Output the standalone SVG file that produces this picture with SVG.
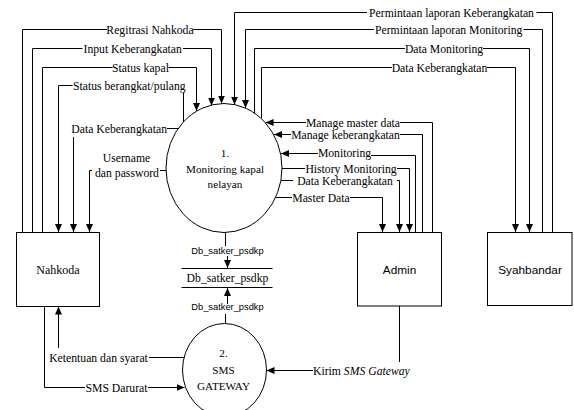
<svg xmlns="http://www.w3.org/2000/svg" width="574" height="410" viewBox="0 0 574 410">
<defs>
<marker id="ah" markerWidth="8" markerHeight="7" refX="8" refY="3.5" orient="auto" markerUnits="userSpaceOnUse"><path d="M0,0 L8,3.5 L0,7 z" fill="#000"/></marker>
<style>
.c path{fill:none;stroke:#000;stroke-width:1}
.a{marker-end:url(#ah)}
.lb{font-family:"Liberation Serif","Times New Roman",serif;font-size:11.7px;fill:#000}
.m{text-anchor:middle}
.ct{font-size:11.2px}
.sm{font-family:"Liberation Sans",Arial,sans-serif;font-size:9.3px;fill:#000;text-anchor:middle}
.bx{fill:#fff;stroke:#000;stroke-width:1}
.bt{font-family:"Liberation Sans",Arial,sans-serif;font-size:11.8px;fill:#000;text-anchor:middle}
.st{fill:none;stroke:#000;stroke-width:1}
</style>
</defs>
<rect width="574" height="410" fill="#fff"/>
<g id="connectors" class="c">
<path d="M22.5 232 V29.5 H107"/><path class="a" d="M193 29.5 H221.5 V103.5"/>
<path d="M32.5 232 V48.5 H82.5"/><path class="a" d="M183 48.5 H211.5 V105.5"/>
<path d="M42.5 232 V67.5 H112.5"/><path class="a" d="M168.5 67.5 H196.5 V111"/>
<path d="M183.5 122 V93"/><path class="a" d="M72.5 85.5 H58.5 V232"/>
<path d="M179 128.5 H167"/><path class="a" d="M73.5 137 V232"/>
<path d="M166 170.5 H160"/><path class="a" d="M92 170.5 H89.5 V232"/>
<path d="M552.5 232 V12.5 H536.5"/><path class="a" d="M367 12.5 H234.5 V104.5"/>
<path d="M542.5 232 V29.5 H523.5"/><path class="a" d="M374 29.5 H245.5 V108"/>
<path d="M254.5 113 V48.5 H405"/><path class="a" d="M483 48.5 H529.5 V232"/>
<path d="M261.5 118 V67.5 H392"/><path class="a" d="M487 67.5 H515.5 V232"/>
<path d="M432.5 232 V122.5 H400"/><path class="a" d="M306 122.5 H265.5"/>
<path d="M422.5 232 V134.5 H400"/><path class="a" d="M291 134.5 H274"/>
<path d="M415.5 232 V155.5 H371"/><path class="a" d="M318 153.5 H281"/>
<path d="M282 168.5 H305"/><path class="a" d="M397 168.5 H409.5 V232"/>
<path d="M281 180.5 H293"/><path class="a" d="M397 180.5 H399.5 V232"/>
<path d="M276 197.5 H292"/><path class="a" d="M350 197.5 H382.5 V232"/>
<path d="M225.5 232.5 V246"/><path class="a" d="M227.5 256 V268"/>
<path d="M225.5 323.5 V314"/><path class="a" d="M227.5 304 V288"/>
<path d="M184 357.5 H149"/><path class="a" d="M58.5 348 V306.5"/>
<path d="M44.5 306.5 V387.5 H85"/><path class="a" d="M148 387.5 H184.5"/>
<path d="M399.5 306 V362"/><path class="a" d="M313 370.5 H266.5"/>
</g>
<g id="labels">
<text class="lb m" x="150" y="33.5">Regitrasi Nahkoda</text>
<text class="lb m" x="132.7" y="52.5">Input Keberangkatan</text>
<text class="lb m" x="140.5" y="71.5">Status kapal</text>
<text class="lb m" x="129.3" y="89.5">Status berangkat/pulang</text>
<text class="lb m" x="119.2" y="132.5">Data Keberangkatan</text>
<text class="lb m" x="126.5" y="161.5">Username</text>
<text class="lb m" x="127" y="176.5">dan password</text>
<text class="lb m" x="451.5" y="16.5">Permintaan laporan Keberangkatan</text>
<text class="lb m" x="448.7" y="33.5">Permintaan laporan Monitoring</text>
<text class="lb m" x="444" y="52.5">Data Monitoring</text>
<text class="lb m" x="439.5" y="71.5">Data Keberangkatan</text>
<text class="lb m" x="353" y="126.5">Manage master data</text>
<text class="lb m" x="345.5" y="138.5">Manage keberangkatan</text>
<text class="lb m" x="344.5" y="157">Monitoring</text>
<text class="lb m" x="351" y="172.5">History Monitoring</text>
<text class="lb m" x="345" y="184.5">Data Keberangkatan</text>
<text class="lb m" x="321" y="201.5">Master Data</text>
<text class="sm" x="227.5" y="253.5">Db_satker_psdkp</text>
<text class="sm" x="227.5" y="310">Db_satker_psdkp</text>
<text class="lb m" x="98.5" y="361.5">Ketentuan dan syarat</text>
<text class="lb m" x="116.5" y="391.5">SMS Darurat</text>
<text class="lb" x="313" y="374.5">Kirim <tspan font-style="italic">SMS Gateway</tspan></text>
</g>
<g id="p1">
<ellipse class="st" cx="224" cy="168" rx="58" ry="64.5"/>
<text class="lb m ct" x="225" y="157">1.</text>
<text class="lb m ct" x="225" y="172.5">Monitoring kapal</text>
<text class="lb m ct" x="225" y="188">nelayan</text>
</g>
<g id="p2">
<ellipse class="st" cx="224.5" cy="370" rx="42" ry="46.5"/>
<text class="lb m ct" x="223.5" y="357">2.</text>
<text class="lb m ct" x="223.5" y="374">SMS</text>
<text class="lb m ct" x="223.5" y="389.5">GATEWAY</text>
</g>
<g id="store">
<path class="st" d="M181.5 268.5 H272.5 M181.5 287.5 H272.5"/>
<text class="lb m" x="227.5" y="282">Db_satker_psdkp</text>
</g>
<g id="nahkoda">
<rect class="bx" x="16.5" y="232.5" width="83" height="74"/>
<text class="lb m" x="58" y="274" style="font-size:12px">Nahkoda</text>
</g>
<g id="admin">
<rect class="bx" x="357.5" y="232.5" width="84" height="73.5"/>
<text class="bt" x="399.5" y="274">Admin</text>
</g>
<g id="syahbandar">
<rect class="bx" x="487.5" y="232.5" width="84.5" height="73"/>
<text class="bt" x="530" y="274">Syahbandar</text>
</g>
</svg>
